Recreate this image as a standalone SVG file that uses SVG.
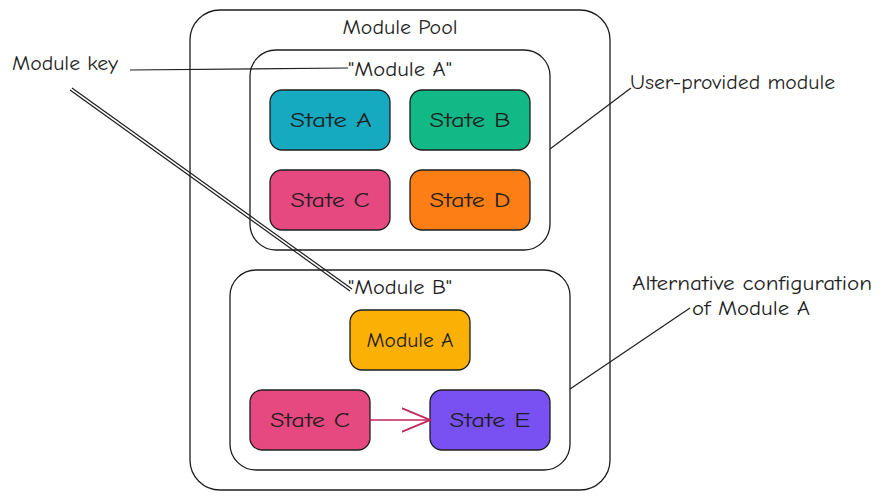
<svg xmlns="http://www.w3.org/2000/svg" width="883" height="500" viewBox="0 0 883 500">
<defs>
<style>
text{font-family:"Comic Neue","Liberation Sans","DejaVu Sans",sans-serif;fill:#1e1e1e;font-size:21px;text-anchor:middle;dominant-baseline:central}
.box{fill:none;stroke:#1e1e1e;stroke-width:1.3}
.st{stroke:#1e1e1e;stroke-width:1.3}
.ln{fill:none;stroke:#1e1e1e;stroke-width:1.2}
.note{text-anchor:start}
</style>
<marker id="ah" viewBox="0 0 20 20" refX="19" refY="10" markerWidth="30" markerHeight="30" markerUnits="userSpaceOnUse" orient="auto">
<path d="M0,2 L19,10 L0,18" fill="none" stroke="#c2255c" stroke-width="1.2"/>
</marker>
</defs>
<rect width="883" height="500" fill="#ffffff"/>
<g id="module-pool">
<rect class="box" x="190" y="10" width="420" height="480" rx="30"/>
<text x="400" y="27" textLength="115" lengthAdjust="spacingAndGlyphs">Module Pool</text>
</g>
<g id="module-a-container">
<rect class="box" x="250" y="50" width="300" height="200" rx="26"/>
<text x="400" y="69" textLength="104" lengthAdjust="spacingAndGlyphs">"Module A"</text>
</g>
<g id="state-a"><rect class="st" x="270" y="90" width="120" height="60" rx="12" fill="#15aabf"/><text x="331" y="120" textLength="82" lengthAdjust="spacingAndGlyphs">State A</text></g>
<g id="state-b"><rect class="st" x="410" y="90" width="120" height="60" rx="12" fill="#12b886"/><text x="470" y="120" textLength="81" lengthAdjust="spacingAndGlyphs">State B</text></g>
<g id="state-c"><rect class="st" x="270" y="170" width="120" height="60" rx="12" fill="#e64980"/><text x="330" y="200" textLength="79" lengthAdjust="spacingAndGlyphs">State C</text></g>
<g id="state-d"><rect class="st" x="410" y="170" width="120" height="60" rx="12" fill="#fd7e14"/><text x="470" y="200" textLength="81" lengthAdjust="spacingAndGlyphs">State D</text></g>
<g id="module-b-container">
<rect class="box" x="230" y="270" width="340" height="200" rx="26"/>
<text x="400" y="287" textLength="104" lengthAdjust="spacingAndGlyphs">"Module B"</text>
</g>
<g id="module-a-ref"><rect class="st" x="350" y="310" width="120" height="60" rx="12" fill="#fab005"/><text x="410" y="340" textLength="87" lengthAdjust="spacingAndGlyphs">Module A</text></g>
<g id="state-c-b"><rect class="st" x="250" y="390" width="120" height="60" rx="12" fill="#e64980"/><text x="310" y="420" textLength="80" lengthAdjust="spacingAndGlyphs">State C</text></g>
<g id="state-e"><rect class="st" x="430" y="390" width="120" height="60" rx="12" fill="#7950f2"/><text x="490" y="420" textLength="81" lengthAdjust="spacingAndGlyphs">State E</text></g>
<g id="label-module-key"><text class="note" x="12" y="63" textLength="106" lengthAdjust="spacingAndGlyphs">Module key</text></g>
<g id="label-user-provided"><text class="note" x="630" y="82" textLength="205" lengthAdjust="spacingAndGlyphs">User-provided module</text></g>
<g id="label-alternative"><text x="752" y="283" textLength="240" lengthAdjust="spacingAndGlyphs">Alternative configuration</text><text x="751" y="308" textLength="118" lengthAdjust="spacingAndGlyphs">of Module A</text></g>
<g id="connectors">
<path class="ln" d="M130,70 L348,68"/>
<path class="ln" d="M70,90 L350,291"/>
<path class="ln" d="M72,88 L352,289"/>
<path class="ln" d="M550,149 L631,88"/>
<path class="ln" d="M570,389 L690,308"/>
<path d="M370,420 L430,420" fill="none" stroke="#c2255c" stroke-width="1.5" marker-end="url(#ah)"/>
</g>
</svg>
